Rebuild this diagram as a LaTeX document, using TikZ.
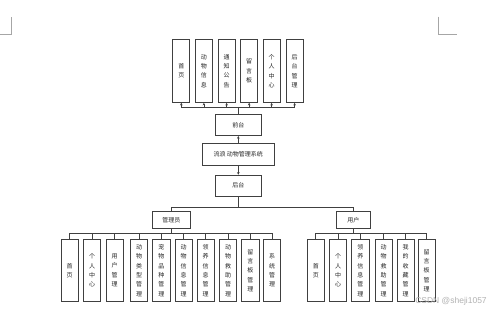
\documentclass[tikz,border=0pt]{standalone}
\usepackage{fontspec}
\newfontfamily\cjk{Noto Sans CJK SC}
\setmainfont{Liberation Sans}
\usetikzlibrary{arrows.meta}
\begin{document}
\begin{tikzpicture}[x=1pt,y=-1pt,
  bx/.style={draw=black!75,line width=0.7pt,inner sep=0pt,align=center,
    font=\cjk\fontsize{6}{9.4}\selectfont,text=black!85},
  tall/.style={bx,minimum width=17pt,minimum height=63pt},
  tallb/.style={bx,minimum width=17.3pt,minimum height=62.4pt},
  wire/.style={draw=black!75,line width=0.7pt},
  arr/.style={wire,-{Stealth[length=2.6pt,width=2.6pt]}},
  cornermark/.style={draw=black!35,line width=0.6pt}]
\useasboundingbox (0,0) rectangle (499,312);
\fill[white] (0,0) rectangle (499,312);
% page corner marks
\draw[cornermark] (0,34.3) -- (11.7,34.3) -- (11.7,16.7);
\draw[cornermark] (438.7,16.7) -- (438.7,34.3) -- (456.7,34.3);
% top boxes
\node[tall] (t1) at (181.3,71) {首\\页};
\node[tall] (t2) at (203.9,71) {动\\物\\信\\息};
\node[tall] (t3) at (226.6,71) {通\\知\\公\\告};
\node[tall] (t4) at (249.2,71) {留\\言\\板};
\node[tall] (t5) at (271.6,71) {个\\人\\中\\心};
\node[tall] (t6) at (294.6,71) {后\\台\\管\\理};
% middle chain
\node[bx,minimum width=45.3pt,minimum height=21.5pt] (qt) at (238.3,125) {前台};
\node[bx,minimum width=72pt,minimum height=21.6pt] (sys) at (238.3,154.5) {流浪 动物管理系统};
\node[bx,minimum width=45.3pt,minimum height=21pt] (ht) at (238.3,185.6) {后台};
\coordinate (tbus) at (238.3,107);
\draw[wire] (t1.south |- tbus) -- (t6.south |- tbus);
\draw[wire] (tbus) -- (qt.north);
\foreach \i in {1,...,6} \draw[arr] (t\i.south |- tbus) -- (t\i.south);
\draw[arr] (sys.north) -- (qt.south);
\draw[arr] (sys.south) -- (ht.north);
% second level
\node[bx,minimum width=37.3pt,minimum height=16.6pt] (adm) at (171.3,220) {管理员};
\node[bx,minimum width=33.3pt,minimum height=16.6pt] (usr) at (353.3,220) {用户};
\coordinate (mbus) at (238.3,207.3);
\draw[wire] (ht.south) -- (mbus);
\draw[wire] (adm.north) -- (adm.north |- mbus) -- (usr.north |- mbus) -- (usr.north);
% admin children
\node[tallb] (a1) at (69.7,270.5) {首\\页};
\node[tallb] (a2) at (92,270.5) {个\\人\\中\\心};
\node[tallb] (a3) at (114.7,270.5) {用\\户\\管\\理};
\node[tallb] (a4) at (139,270.5) {动\\物\\类\\型\\管\\理};
\node[tallb] (a5) at (161.4,270.5) {宠\\物\\品\\种\\管\\理};
\node[tallb] (a6) at (183.7,270.5) {动\\物\\信\\息\\管\\理};
\node[tallb] (a7) at (205.7,270.5) {领\\养\\信\\息\\管\\理};
\node[tallb] (a8) at (228,270.5) {动\\物\\救\\助\\管\\理};
\node[tallb] (a9) at (250.4,270.5) {留\\言\\板\\管\\理};
\node[tallb] (a10) at (272,270.5) {系\\统\\管\\理};
\coordinate (abus) at (171.3,233.3);
\draw[wire] (adm.south) -- (abus);
\draw[wire] (a1.north |- abus) -- (a10.north |- abus);
\foreach \i in {1,...,10} \draw[wire] (a\i.north |- abus) -- (a\i.north);
% user children
\node[tallb] (u1) at (315.8,270.5) {首\\页};
\node[tallb] (u2) at (338,270.5) {个\\人\\中\\心};
\node[tallb] (u3) at (360.4,270.5) {领\\养\\信\\息\\管\\理};
\node[tallb] (u4) at (383.5,270.5) {动\\物\\救\\助\\管\\理};
\node[tallb] (u5) at (405.7,270.5) {我\\的\\收\\藏\\管\\理};
\node[tallb] (u6) at (426.7,270.5) {留\\言\\板\\管\\理};
\coordinate (ubus) at (353.3,233.3);
\draw[wire] (usr.south) -- (ubus);
\draw[wire] (u1.north |- ubus) -- (u6.north |- ubus);
\foreach \i in {1,...,6} \draw[wire] (u\i.north |- ubus) -- (u\i.north);
% watermark
\node[font=\fontsize{8.5}{10}\selectfont,text=black!30,inner sep=0pt] (wm) at (451,301.5) {CSDN @sheji1057};
\end{tikzpicture}
\end{document}
